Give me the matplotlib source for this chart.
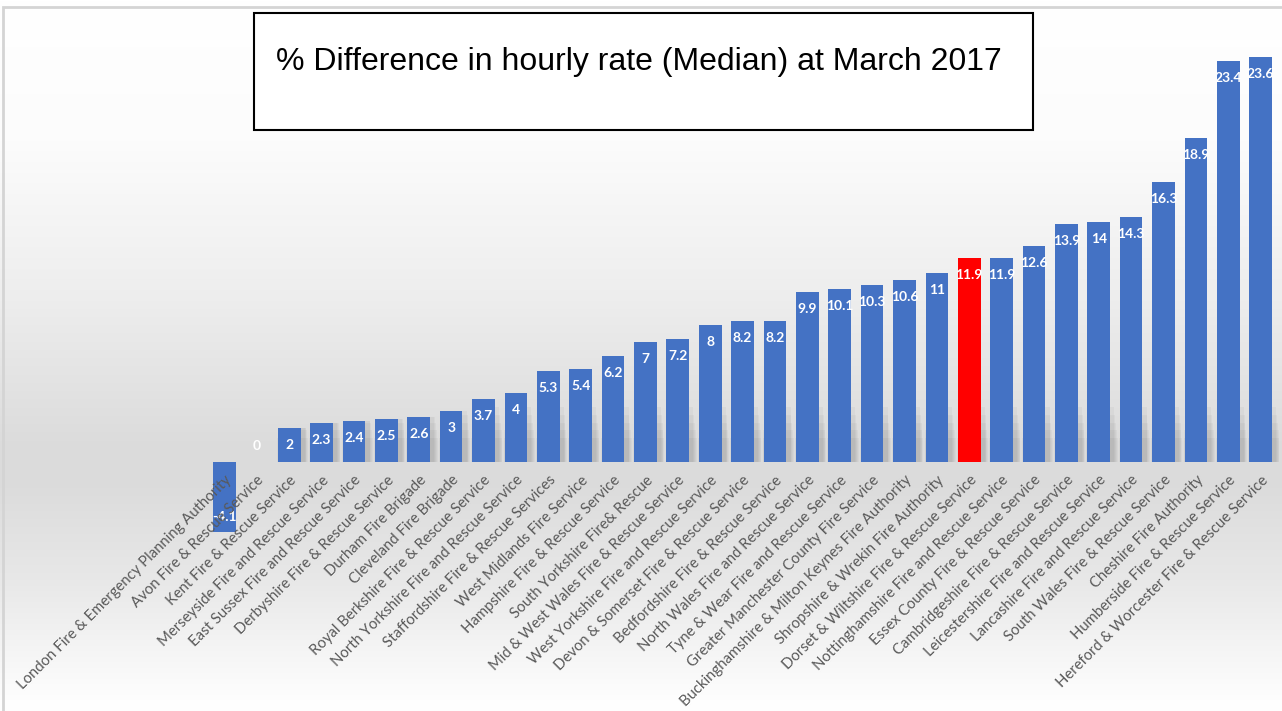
import numpy as np
import matplotlib
matplotlib.use("Agg")
import matplotlib.pyplot as plt
from matplotlib.patches import Rectangle

# === Data === #
services = [
    "London Fire & Emergency Planning Authority",
    "Avon Fire & Rescue Service",
    "Kent Fire & Rescue Service",
    "Merseyside Fire and Rescue Service",
    "East Sussex Fire and Rescue Service",
    "Derbyshire Fire & Rescue Service",
    "Durham Fire Brigade",
    "Cleveland Fire Brigade",
    "Royal Berkshire Fire & Rescue Service",
    "North Yorkshire Fire and Rescue Service",
    "Staffordshire Fire & Rescue Services",
    "West Midlands Fire Service",
    "Hampshire Fire & Rescue Service",
    "South Yorkshire Fire& Rescue",
    "Mid & West Wales Fire & Rescue Service",
    "West Yorkshire Fire and Rescue Service",
    "Devon & Somerset Fire & Rescue Service",
    "Bedfordshire Fire & Rescue Service",
    "North Wales Fire and Rescue Service",
    "Tyne & Wear Fire and Rescue Service",
    "Greater Manchester County Fire Service",
    "Buckinghamshire & Milton Keynes Fire Authority",
    "Shropshire & Wrekin Fire Authority",
    "Dorset & Wiltshire Fire & Rescue Service",
    "Nottinghamshire Fire and Rescue Service",
    "Essex County Fire & Rescue Service",
    "Cambridgeshire Fire & Rescue Service",
    "Leicestershire Fire and Rescue Service",
    "Lancashire Fire and Rescue Service",
    "South Wales Fire & Rescue Service",
    "Cheshire Fire Authority",
    "Humberside Fire & Rescue Service",
    "Hereford & Worcester Fire & Rescue Service",
]
pct_diff = [-4.1, 0, 2, 2.3, 2.4, 2.5, 2.6, 3, 3.7, 4, 5.3, 5.4, 6.2, 7, 7.2, 8,
            8.2, 8.2, 9.9, 10.1, 10.3, 10.6, 11, 11.9, 11.9, 12.6, 13.9, 14,
            14.3, 16.3, 18.9, 23.4, 23.6]
highlight = "Dorset & Wiltshire Fire & Rescue Service"

title = "% Difference in hourly rate (Median) at March 2017"

# === Figure === #
W, H = 1282, 711
fig = plt.figure(figsize=(W / 100, H / 100), dpi=100)

# background gradient (white -> grey at baseline -> white), pixel exact
stops_y = [0, 140, 300, 440, 480, 580, 700, 711]
stops_c = [255, 252, 237, 220, 219, 232, 254, 255]
grad = np.interp(np.arange(H), stops_y, stops_c) / 255.0
bg = np.repeat(np.repeat(grad[:, None, None], W, axis=1), 3, axis=2)
fig.figimage(bg, xo=0, yo=0, origin="upper", zorder=0)

ax = fig.add_axes([0, 0, 1, 1])
ax.set_zorder(1)
ax.patch.set_alpha(0)

# pixel mapping of the original layout
x0_px, step_px = 224.5, 32.38
base_px, unit_px = 462, 17.15
ax.set_xlim(-x0_px / step_px, (W - x0_px) / step_px)
ax.set_ylim((base_px - H) / unit_px, base_px / unit_px)

x = np.arange(len(services))
vals = np.array(pct_diff)
colors = ["#FF0000" if s == highlight else "#4472C4" for s in services]

# soft shadow near the baseline
for k in range(5):
    sh = np.clip(vals, 0, 3.2 - 0.45 * k)
    ax.bar(x + 0.1, sh, width=0.76 + 0.05 * k, color="black", alpha=0.03,
           linewidth=0, zorder=1)

ax.bar(x, vals, width=0.70, color=colors, linewidth=0, zorder=2)

# value labels inside end of bars
for xi, v in zip(x, vals):
    lbl = f"{v:g}"
    if v > 0:
        off = -17
    elif v < 0:
        off = 15
    else:
        off = 16
    ax.annotate(lbl, (xi, v), xytext=(0, off), textcoords="offset pixels",
                ha="center", va="center", color="white", fontsize=10,
                fontweight="bold", family="Lato", zorder=3)

# axis at zero with rotated category labels
ax.spines["bottom"].set_position(("data", 0))
for s in ["top", "right", "left", "bottom"]:
    ax.spines[s].set_visible(False)
ax.set_yticks([])
ax.set_xticks(x)
ax.set_xticklabels(services, rotation=45, ha="right", va="top",
                   rotation_mode="anchor", fontsize=10.7, color="#595959",
                   family="Lato")
ax.tick_params(axis="x", length=0, pad=8)
ax.xaxis.set_zorder(5)

# outer frame
fig.patches.append(Rectangle((3 / W, -0.01), 1.1, (H - 7) / H + 0.01,
                             transform=fig.transFigure, fill=False,
                             edgecolor="#d4d4d4", linewidth=2, zorder=5))

# title box
fig.patches.append(Rectangle((254 / W, (H - 130) / H), (1033 - 254) / W, 117 / H,
                             transform=fig.transFigure, facecolor="white",
                             edgecolor="black", linewidth=1.5, zorder=6))
fig.text(276 / W, (H - 62) / H, title, ha="left", va="center", fontsize=23,
         family="Liberation Sans", color="black", zorder=7)

fig.savefig("out.png", dpi=100)
